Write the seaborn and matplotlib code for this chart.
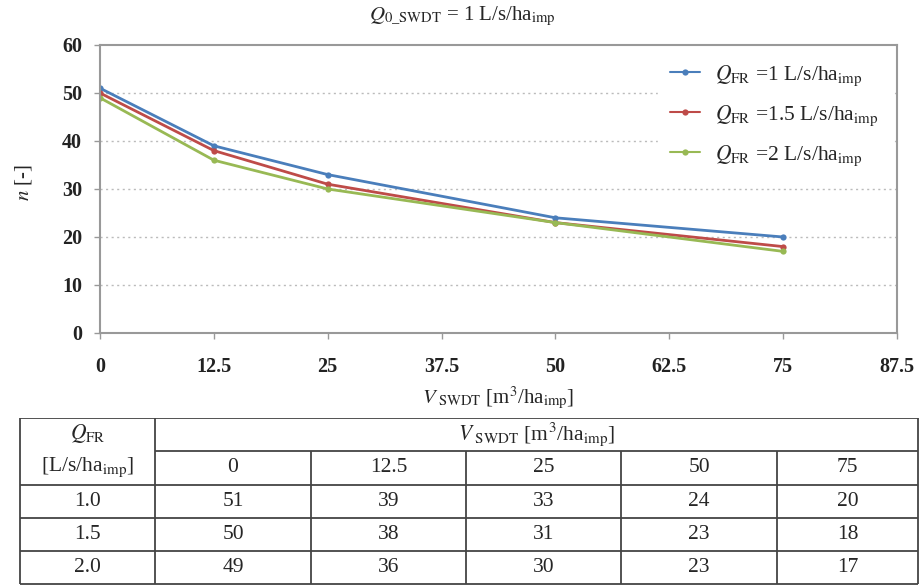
import numpy as np
import pandas as pd
import matplotlib
matplotlib.use("Agg")
import matplotlib.pyplot as plt
import seaborn as sns

# ---- data ----
v_swdt = [0, 12.5, 25, 50, 75]
q_fr = ["1.0", "1.5", "2.0"]
n_q10 = [51, 39, 33, 24, 20]
n_q15 = [50, 38, 31, 23, 18]
n_q20 = [49, 36, 30, 23, 17]
legend_labels = [r"$Q_{\mathrm{FR}}$ =1 L/s/ha$_{\mathrm{imp}}$",
                 r"$Q_{\mathrm{FR}}$ =1.5 L/s/ha$_{\mathrm{imp}}$",
                 r"$Q_{\mathrm{FR}}$ =2 L/s/ha$_{\mathrm{imp}}$"]
x_ticks = [0, 12.5, 25, 37.5, 50, 62.5, 75, 87.5]
x_tick_labels = ["0", "12.5", "25", "37.5", "50", "62.5", "75", "87.5"]
y_ticks = [0, 10, 20, 30, 40, 50, 60]
colors = ["#4A7EBB", "#BE4B48", "#98B954"]

sns.set_theme(style="white")
plt.rcParams["font.family"] = ["Liberation Serif", "DejaVu Serif"]
plt.rcParams["mathtext.fontset"] = "stix"

df = pd.DataFrame({
    "V": v_swdt * 3,
    "n": n_q10 + n_q15 + n_q20,
    "Q": [legend_labels[0]] * 5 + [legend_labels[1]] * 5 + [legend_labels[2]] * 5,
})

W, H = 919, 585
fig = plt.figure(figsize=(W / 100, H / 100), dpi=100)
ax = fig.add_axes([100 / W, 1 - 333 / H, 797 / W, 288 / H])

sns.lineplot(data=df, x="V", y="n", hue="Q", palette=colors, marker="o",
             markersize=4.5, markeredgewidth=0, linewidth=2, ax=ax)

ax.set_xlim(0, 87.5)
ax.set_ylim(0, 60)
ax.set_xticks(x_ticks)
ax.set_xticklabels(x_tick_labels)
ax.set_yticks(y_ticks)
for lab in ax.get_xticklabels() + ax.get_yticklabels():
    lab.set_fontweight("bold")
    lab.set_fontsize(14.5)
    lab.set_color("#222222")
ax.tick_params(axis="both", length=4, width=1, color="#999999", direction="out",
               bottom=True, left=True)
ax.tick_params(axis="x", pad=13)
ax.tick_params(axis="y", pad=9)
for y in y_ticks[1:-1]:
    ax.axhline(y, color="#BBBBBB", linestyle=(0, (1.5, 2.5)), linewidth=1, zorder=0)
for s in ax.spines.values():
    s.set_color("#999999")
    s.set_linewidth(1.5)

ax.set_xlabel(r"$V_{\ \mathrm{SWDT}}$ [m$^3$/ha$_{\mathrm{imp}}$]", fontsize=15)
ax.xaxis.set_label_coords(0.5, -(398 - 333) / 288, transform=ax.transAxes)
ax.xaxis.label.set_va("center")
ax.set_ylabel(r"$n$ [-]", fontsize=15)
ax.yaxis.set_label_coords(-(100 - 24) / 797, 0.5 + (189 - 183) / 288, transform=ax.transAxes)
ax.yaxis.label.set_va("center")
fig.text(0.503, 1 - 16 / H, r"$Q_{0\_\mathrm{SWDT}}$ = 1 L/s/ha$_{\mathrm{imp}}$",
         ha="center", va="center", fontsize=15)

leg = ax.legend(loc="upper right", frameon=True, fontsize=15.5, labelspacing=0.72,
                handlelength=1.4, handletextpad=0.7, borderpad=0.55,
                borderaxespad=0.3, title=None)
leg.get_frame().set_edgecolor("white")
leg.get_frame().set_facecolor("white")
leg.get_frame().set_alpha(1)
for h in leg.get_lines():
    h.set_linewidth(1.5)

# ---- table ----
tax = fig.add_axes([0, 0, 1, (H - 418) / H])
tax.set_xlim(0, W)
tax.set_ylim(H, 418)
tax.axis("off")
cols = [20, 155, 311, 466, 621, 777, 918]
rows = [418, 451, 485, 518, 551, 584]
lc = "#444444"
lw = 1.3
tax.hlines([rows[0], rows[-1]], cols[0], cols[-1], color=lc, lw=lw)
tax.hlines([rows[1]], cols[1], cols[-1], color=lc, lw=lw)
tax.hlines(rows[2:-1], cols[0], cols[-1], color=lc, lw=lw)
tax.vlines([cols[0], cols[1], cols[-1]], rows[0], rows[-1], color=lc, lw=lw)
tax.vlines(cols[2:-1], rows[1], rows[-1], color=lc, lw=lw)

fs = 15.5
tax.text((cols[0] + cols[1]) / 2, 434, r"$Q_{\mathrm{FR}}$", ha="center", va="center", fontsize=fs)
tax.text((cols[0] + cols[1]) / 2, 467, r"[L/s/ha$_{\mathrm{imp}}$]", ha="center", va="center", fontsize=fs)
tax.text((cols[1] + cols[-1]) / 2, 434, r"$V_{\ \mathrm{SWDT}}$ [m$^3$/ha$_{\mathrm{imp}}$]",
         ha="center", va="center", fontsize=fs)
for j, v in enumerate(v_swdt):
    tax.text((cols[j + 1] + cols[j + 2]) / 2, 468, f"{v:g}", ha="center", va="center", fontsize=fs)
for i, (q, vals) in enumerate(zip(q_fr, [n_q10, n_q15, n_q20])):
    yc = (rows[i + 2] + rows[i + 3]) / 2
    tax.text((cols[0] + cols[1]) / 2, yc, q, ha="center", va="center", fontsize=fs)
    for j, val in enumerate(vals):
        tax.text((cols[j + 1] + cols[j + 2]) / 2, yc, str(val), ha="center", va="center", fontsize=fs)

fig.savefig("out.png", dpi=100, facecolor="white")
